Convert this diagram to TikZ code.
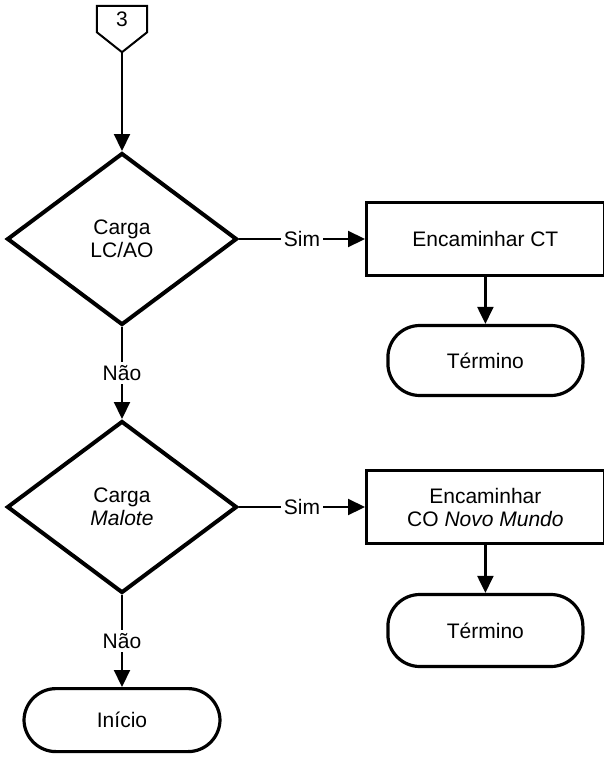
\documentclass[tikz,border=0pt]{standalone}
\usepackage{fontspec}
\setmainfont{Liberation Sans}
\usetikzlibrary{positioning,arrows.meta,shapes.geometric}

\begin{document}
\begin{tikzpicture}[x=1pt,y=1pt,font=\fontsize{21}{23}\selectfont,
  decision/.style={diamond,draw,line width=4pt,minimum width=230pt,
      minimum height=172pt,inner sep=0pt,align=center},
  process/.style={rectangle,draw,line width=2.8pt,minimum width=238pt,
      minimum height=73pt,align=center},
  terminal/.style={rectangle,draw,line width=3.2pt,rounded corners=32pt,
      minimum width=195pt,minimum height=70pt},
  link/.style={line width=2.2pt,-{Triangle[length=17pt,width=16pt]}},
  tag/.style={fill=white,inner sep=3pt}]
\useasboundingbox (0,0) rectangle (603,-757);
% off-page connector
\node[inner sep=0pt,minimum width=50pt,minimum height=26pt] (conn) at (122,-19) {3};
\coordinate[below=20pt of conn.south] (conntip);
\draw[line width=2pt] (conn.north west) -- (conn.north east) -- (conn.south east)
  -- (conntip) -- (conn.south west) -- cycle;
% left column
\node[decision] (lcao) at (122,-239) {Carga\\LC/AO};
\node[decision,below=92pt of lcao] (malote) {Carga\\\textit{Malote}};
\node[terminal,minimum width=196pt,minimum height=63pt,below=92pt of malote] (inicio) {Início};
% right column
\node[process,right=126pt of lcao] (ct) {Encaminhar CT};
\node[terminal,below=47pt of ct] (fim1) {Término};
\node[process,right=126pt of malote] (novo) {Encaminhar\\CO \textit{Novo Mundo}};
\node[terminal,minimum height=72pt,below=48pt of novo] (fim2) {Término};
% connectors
\draw[link] (conntip) -- (lcao.north);
\draw[link] (lcao.east) -- node[tag] {Sim} (ct.west);
\draw[link] (ct.south) -- (fim1.north);
\draw[link] (lcao.south) -- node[tag] {Não} (malote.north);
\draw[link] (malote.east) -- node[tag] {Sim} (novo.west);
\draw[link] (novo.south) -- (fim2.north);
\draw[link] (malote.south) -- node[tag] {Não} (inicio.north);
\end{tikzpicture}
\end{document}
